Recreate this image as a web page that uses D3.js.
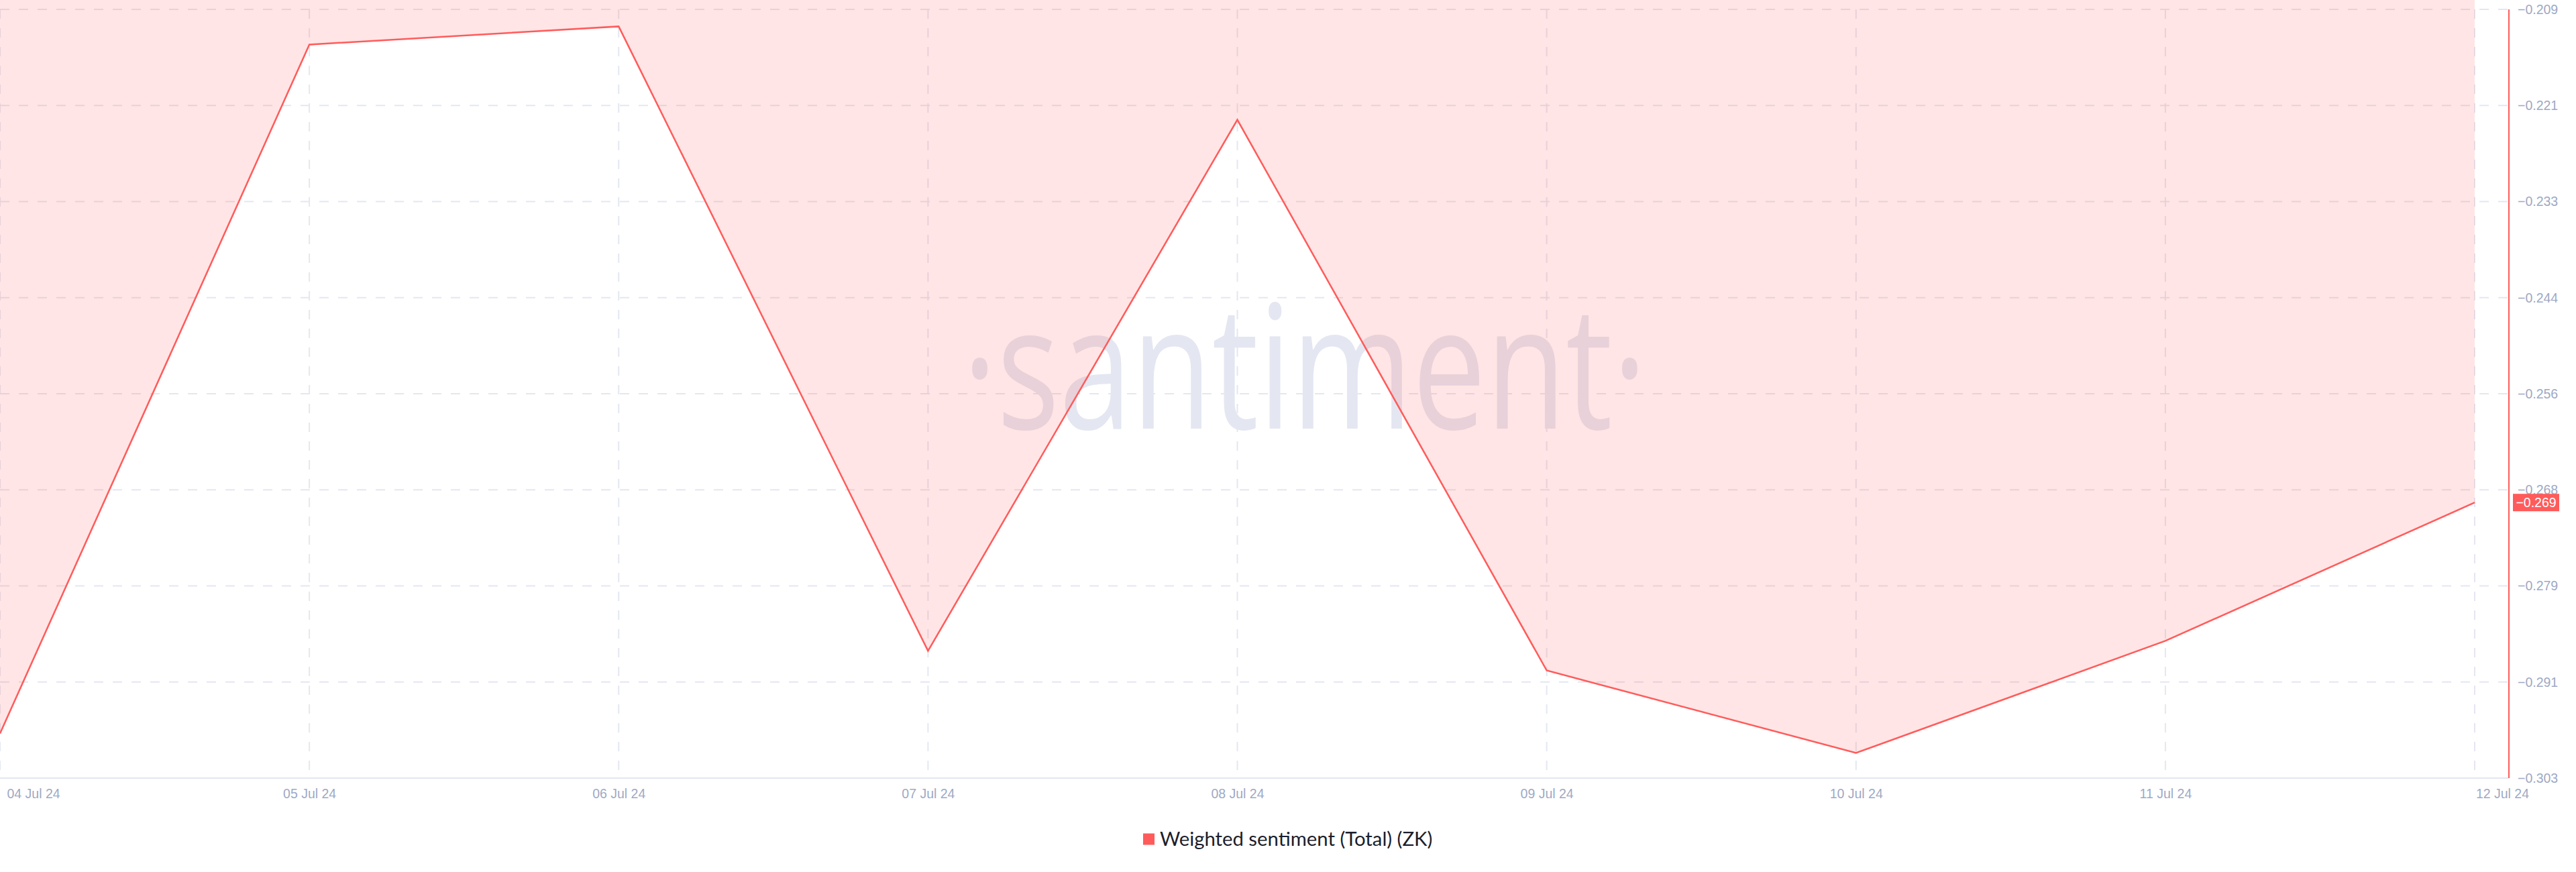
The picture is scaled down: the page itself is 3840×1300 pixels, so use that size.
<!DOCTYPE html>
<html><head><meta charset="utf-8">
<script src="https://cdn.jsdelivr.net/npm/d3@7"></script>
<style>html,body{margin:0;padding:0;background:#fff;} svg{display:block}</style>
</head><body>
<svg id="chart" width="3840" height="1300"></svg>
<script>
// ---- data ----
const dates = ["2024-07-04","2024-07-05","2024-07-06","2024-07-07","2024-07-08","2024-07-09","2024-07-10","2024-07-11","2024-07-12"];
const values = [-0.2975, -0.21335, -0.21113, -0.28741, -0.22253, -0.28980, -0.29988, -0.28619, -0.26929];
const yDomain = [-0.30295, -0.20905];
const yTickCount = 9;
const seriesName = "Weighted sentiment (Total) (ZK)";
const watermark = "·santiment·";

// ---- layout ----
const W = 3840, H = 1300;
const plotLeft = 0, plotRight = 3740, plotTop = 14, plotBottom = 1160;
const lastX = 3689;
const red = "#ff5b5b";
const gridColor = "#e3e7f1";
const tickColor = "#9ea9c4";
const tickFont = "Liberation Sans, Arial, Helvetica, sans-serif";

const parse = d3.utcParse("%Y-%m-%d");
const data = dates.map((d, i) => ({ date: parse(d), value: values[i] }));

const x = d3.scaleUtc().domain(d3.extent(data, d => d.date)).range([plotLeft, lastX]);
const y = d3.scaleLinear().domain(yDomain).range([plotBottom, plotTop]);
const yTicks = d3.range(yTickCount).map(i => yDomain[0] + i * (yDomain[1] - yDomain[0]) / (yTickCount - 1));

const svg = d3.select("#chart");

// watermark
const wm = svg.append("text")
  .attr("font-family", "Open Sans, sans-serif")
  .attr("font-size", 256)
  .attr("font-weight", 500)
  .attr("fill", "#e4e7f1")
  .attr("text-anchor", "middle")
  .text(watermark);
const wmLen = wm.node().getComputedTextLength();
const wmScale = 1020 / wmLen;
wm.attr("transform", `translate(1945,639) scale(${wmScale},1)`);

// grid
const grid = svg.append("g");
grid.selectAll("line.h").data(yTicks).enter().append("line")
  .attr("x1", plotLeft).attr("x2", plotRight)
  .attr("y1", d => y(d)).attr("y2", d => y(d))
  .attr("stroke", gridColor).attr("stroke-width", 2).attr("stroke-dasharray", "14,14");
grid.selectAll("line.v").data(data).enter().append("line")
  .attr("x1", d => x(d.date)).attr("x2", d => x(d.date))
  .attr("y1", plotTop).attr("y2", plotBottom)
  .attr("stroke", gridColor).attr("stroke-width", 2).attr("stroke-dasharray", "14,14");

// area fill above line
const area = d3.area().x(d => x(d.date)).y0(0).y1(d => y(d.value));
svg.append("path").datum(data).attr("d", area).attr("fill", "rgba(255,91,91,0.16)");

// line
const line = d3.line().x(d => x(d.date)).y(d => y(d.value));
svg.append("path").datum(data).attr("d", line)
  .attr("fill", "none").attr("stroke", red).attr("stroke-width", 2.5).attr("stroke-linejoin", "miter");

// x axis baseline
svg.append("line").attr("x1", plotLeft).attr("x2", plotRight)
  .attr("y1", plotBottom).attr("y2", plotBottom)
  .attr("stroke", "#e3e7f0").attr("stroke-width", 2);

// x axis labels
const xAxis = d3.axisBottom(x).tickValues(data.map(d => d.date))
  .tickFormat(d3.utcFormat("%d %b %y")).tickSize(0).tickPadding(16);
const gx = svg.append("g").attr("transform", `translate(0,${plotBottom})`).call(xAxis);
gx.select(".domain").remove();
gx.selectAll("text").attr("fill", tickColor).attr("font-size", 19.5).attr("font-family", tickFont);
const xt = gx.selectAll(".tick text").nodes();
d3.select(xt[0]).attr("text-anchor", "start").attr("x", 10);
d3.select(xt[xt.length - 1]).attr("x", 41);

// right axis
svg.append("line").attr("x1", plotRight).attr("x2", plotRight)
  .attr("y1", plotTop).attr("y2", plotBottom)
  .attr("stroke", red).attr("stroke-width", 2);
const yAxis = d3.axisRight(y).tickValues(yTicks).tickFormat(d3.format(".3f")).tickSize(0).tickPadding(13);
const gy = svg.append("g").attr("transform", `translate(${plotRight},0)`).call(yAxis);
gy.select(".domain").remove();
gy.selectAll("text").attr("fill", tickColor).attr("font-size", 19.5).attr("font-family", tickFont);

// last value badge
const last = data[data.length - 1];
const badge = svg.append("g").attr("transform", `translate(3746,${y(last.value)})`);
badge.append("rect").attr("x", 0).attr("y", -13).attr("width", 69).attr("height", 26).attr("fill", red);
badge.append("text").attr("x", 34.5).attr("y", 0).attr("dy", "0.35em")
  .attr("text-anchor", "middle").attr("fill", "#fff")
  .attr("font-size", 19.5).attr("font-family", tickFont)
  .text(d3.format(".3f")(last.value));

// legend
const lg = svg.append("g").attr("transform", "translate(1704,1251)");
lg.append("rect").attr("x", 0).attr("y", -8.5).attr("width", 17).attr("height", 17).attr("fill", red);
lg.append("text").attr("x", 25).attr("y", 0).attr("dy", "0.35em")
  .attr("font-family", "Lato, sans-serif").attr("font-size", 29.3).attr("fill", "#1b1e2b")
  .text(seriesName);
</script>
</body></html>
